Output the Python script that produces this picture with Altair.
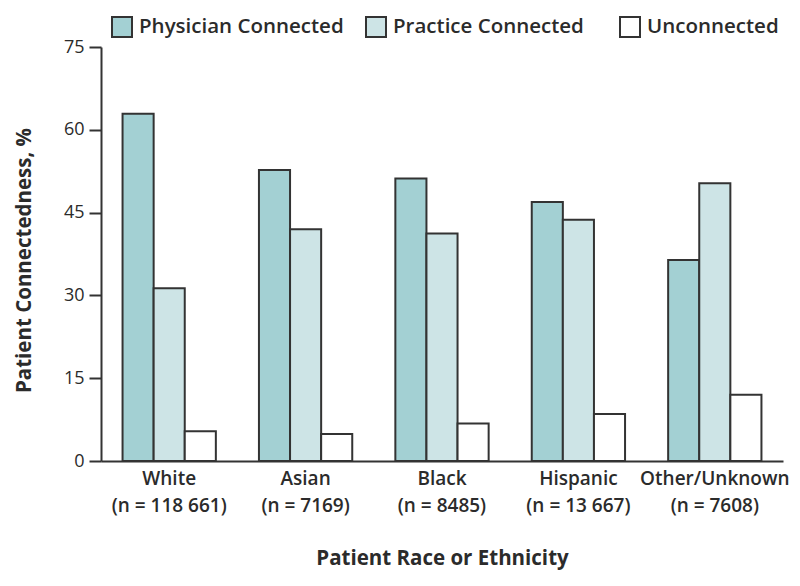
import altair as alt
import pandas as pd

groups = ["White|(n = 118 661)", "Asian|(n = 7169)", "Black|(n = 8485)",
          "Hispanic|(n = 13 667)", "Other/Unknown|(n = 7608)"]
series = ["Physician Connected", "Practice Connected", "Unconnected"]
physician = [62.9, 52.7, 51.2, 46.9, 36.4]
practice = [31.3, 42.0, 41.2, 43.7, 50.3]
unconnected = [5.4, 4.9, 6.8, 8.5, 12.0]
colors = ["#A3D0D3", "#CDE4E6", "#FFFFFF"]
y_ticks = [0, 15, 30, 45, 60, 75]

rows = []
for i, g in enumerate(groups):
    for s, vals in zip(series, [physician, practice, unconnected]):
        rows.append({"group": g, "series": s, "value": vals[i]})
df = pd.DataFrame(rows)

FONT = "Open Sans"
DARK = "#2b2b2b"
LINE = "#333333"

chart = alt.Chart(df).mark_bar(stroke=LINE, strokeWidth=2).encode(
    x=alt.X("group:N", sort=groups,
            scale=alt.Scale(paddingInner=0.316, paddingOuter=0.158),
            axis=alt.Axis(title="Patient Race or Ethnicity",
                          labelExpr="split(datum.label, '|')",
                          labelAngle=0, ticks=False, labelPadding=8.5,
                          labelFontSize=19, labelLineHeight=27,
                          labelColor=DARK, labelFont=FONT, labelFontWeight=600,
                          titleFontSize=20.5, titleFont=FONT, titleFontWeight="bold",
                          titleColor=DARK, titlePadding=33,
                          domainColor=LINE, domainWidth=2)),
    xOffset=alt.XOffset("series:N", sort=series,
                        scale=alt.Scale(paddingInner=0, paddingOuter=0)),
    y=alt.Y("value:Q", scale=alt.Scale(domain=[0, 75], nice=False),
            axis=alt.Axis(title="Patient Connectedness, %", values=y_ticks,
                          grid=False, tickSize=12, tickWidth=2, tickColor=LINE,
                          labelFontSize=18, labelColor=DARK, labelFont=FONT,
                          labelPadding=5,
                          titleFontSize=20.5, titleFont=FONT, titleFontWeight="bold",
                          titleColor=DARK, titlePadding=29, titleY=213,
                          domainColor=LINE, domainWidth=2)),
    color=alt.Color("series:N", sort=series,
                    scale=alt.Scale(domain=series, range=colors),
                    legend=alt.Legend(title=None, orient="none", direction="horizontal",
                                      legendX=10, legendY=-31, symbolType="square",
                                      symbolSize=400, symbolStrokeColor=LINE,
                                      symbolStrokeWidth=2, symbolOpacity=1,
                                      labelFontSize=20.5, labelFont=FONT,
                                      labelFontWeight=600, labelLimit=400,
                                      labelColor=DARK, columnPadding=18,
                                      gridAlign="all", labelOffset=6)),
).properties(
    width=682, height=414,
    autosize=alt.AutoSizeParams(type="none"),
    padding={"left": 93, "top": 39, "right": 9, "bottom": 117},
).configure_view(stroke=None)

chart.save("out.html", embed_options={"renderer": "svg", "actions": False})
